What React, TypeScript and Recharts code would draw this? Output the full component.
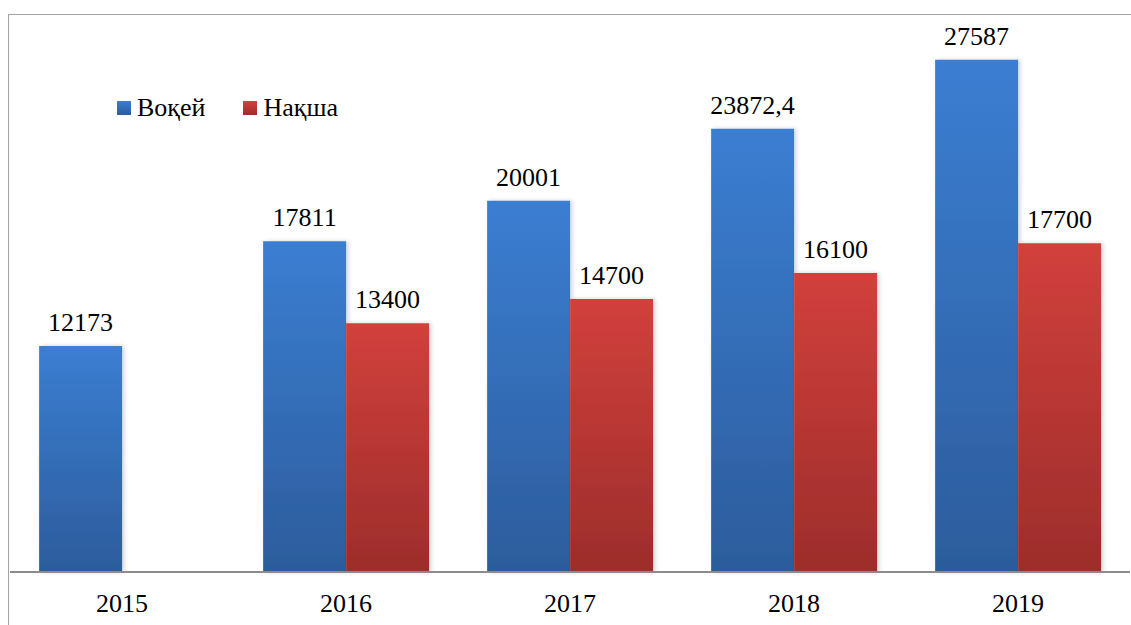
import React from "react";
import { BarChart, Bar, XAxis, YAxis, LabelList } from "recharts";

const years = ["2015", "2016", "2017", "2018", "2019"];
const actual = [12173, 17811, 20001, 23872.4, 27587];
const plan = [null, 13400, 14700, 16100, 17700];
const seriesNames = ["Воқей", "Нақша"];

const data = years.map((year, i) => ({ year, actual: actual[i], plan: plan[i] }));

const FONT = "Liberation Serif, Times New Roman, Tinos, DejaVu Serif, serif";

const fmt = (v: unknown) => (v == null ? "" : String(v).replace(".", ","));

function ValueLabel(props: any) {
  const { x, y, width, value } = props;
  if (value == null) return null;
  return (
    <text x={x + width / 2} y={y - 15} textAnchor="middle" fontSize={26} style={{ fontFamily: FONT }} fill="#000">
      {fmt(value)}
    </text>
  );
}

function LegendBox() {
  const items = [
    { name: seriesNames[0], from: "#3b7ed2", to: "#2c5c9c" },
    { name: seriesNames[1], from: "#d2403c", to: "#9c2d2b" },
  ];
  return (
    <div style={{ position: "absolute", left: 117, top: 94, display: "flex", fontFamily: FONT, fontSize: 26, color: "#000" }}>
      {items.map((it, i) => (
        <div key={it.name} style={{ display: "flex", alignItems: "center", marginRight: i === 0 ? 38 : 0 }}>
          <span
            style={{
              display: "inline-block",
              width: 14,
              height: 14,
              marginRight: 6,
              background: `linear-gradient(${it.from}, ${it.to})`,
            }}
          />
          <span style={{ lineHeight: "28px" }}>{it.name}</span>
        </div>
      ))}
    </div>
  );
}

export default function App() {
  return (
    <div style={{ position: "fixed", left: 0, top: 0, width: 1131, height: 625, overflow: "hidden", background: "#fff", fontFamily: FONT }}>
      <div
        style={{
          position: "absolute",
          left: 8,
          top: 14,
          width: 1200,
          height: 700,
          border: "1.5px solid #a3a3a3",
        }}
      />
      <div style={{ position: "absolute", left: 0, top: 0 }}>
        <BarChart
          width={1131}
          height={625}
          data={data}
          margin={{ top: 15, right: 1, bottom: 0, left: 10 }}
          barCategoryGap="13%"
          barGap={0}
          style={{ fontFamily: FONT }}
        >
          <defs>
            <linearGradient id="blueGrad" x1="0" y1="0" x2="0" y2="1">
              <stop offset="0%" stopColor="#3b7ed2" />
              <stop offset="100%" stopColor="#2c5c9c" />
            </linearGradient>
            <linearGradient id="redGrad" x1="0" y1="0" x2="0" y2="1">
              <stop offset="0%" stopColor="#d2403c" />
              <stop offset="100%" stopColor="#9c2d2b" />
            </linearGradient>
            <filter id="barShadow" x="-10%" y="-5%" width="130%" height="110%">
              <feDropShadow dx="2" dy="0" stdDeviation="2" floodColor="#000" floodOpacity="0.18" />
            </filter>
          </defs>
          <YAxis hide domain={[0, 30000]} />
          <XAxis
            dataKey="year"
            height={53}
            tickLine={false}
            tickSize={0}
            tickMargin={22}
            axisLine={{ stroke: "#8c8c8c", strokeWidth: 2 }}
            tick={{ fontSize: 26, fill: "#000", style: { fontFamily: FONT } }}
            interval={0}
          />
          <Bar dataKey="actual" name={seriesNames[0]} fill="url(#blueGrad)" filter="url(#barShadow)" isAnimationActive={false}>
            <LabelList dataKey="actual" content={<ValueLabel />} />
          </Bar>
          <Bar dataKey="plan" name={seriesNames[1]} fill="url(#redGrad)" filter="url(#barShadow)" isAnimationActive={false}>
            <LabelList dataKey="plan" content={<ValueLabel />} />
          </Bar>
        </BarChart>
      </div>
      <LegendBox />
    </div>
  );
}
